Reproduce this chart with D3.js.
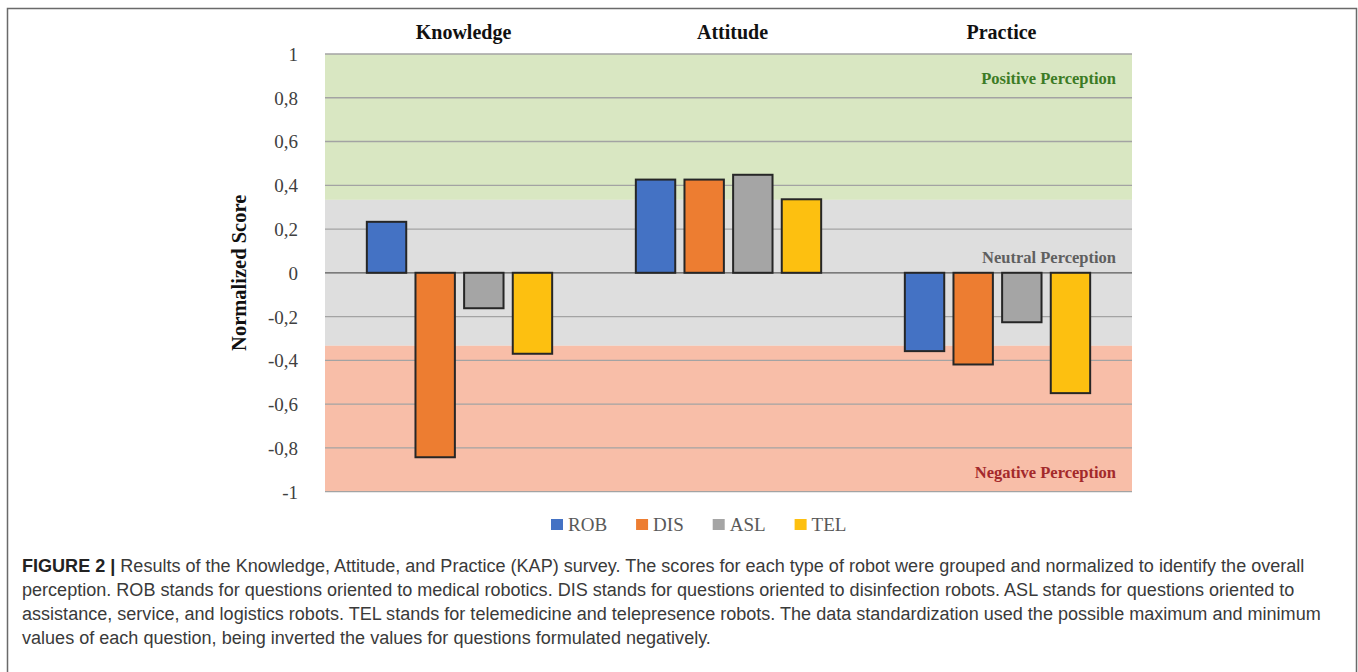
<!DOCTYPE html>
<html>
<head>
<meta charset="utf-8">
<script src="https://cdn.jsdelivr.net/npm/d3@7"></script>
<style>
  body { margin: 0; background: #fff; }
  svg { display: block; }
</style>
</head>
<body>
<div id="chart"></div>
<script>
// Data
const groups = ["Knowledge", "Attitude", "Practice"];
const robots = ["ROB", "DIS", "ASL", "TEL"];
const robValues = [0.233, 0.426, -0.358];
const disValues = [-0.843, 0.426, -0.419];
const aslValues = [-0.162, 0.448, -0.226];
const telValues = [-0.370, 0.336, -0.550];
const yTicks = [1, 0.8, 0.6, 0.4, 0.2, 0, -0.2, -0.4, -0.6, -0.8, -1];
const bands = [
    { name: "Positive Perception", from: 1 / 3, to: 1 },
    { name: "Neutral Perception", from: -1 / 3, to: 1 / 3 },
    { name: "Negative Perception", from: -1, to: -1 / 3 }
];
const captionLines = [
    "Results of the Knowledge, Attitude, and Practice (KAP) survey. The scores for each type of robot were grouped and normalized to identify the overall",
    "perception. ROB stands for questions oriented to medical robotics. DIS stands for questions oriented to disinfection robots. ASL stands for questions oriented to",
    "assistance, service, and logistics robots. TEL stands for telemedicine and telepresence robots. The data standardization used the possible maximum and minimum",
    "values of each question, being inverted the values for questions formulated negatively."
];

const seriesValues = [robValues, disValues, aslValues, telValues];
const data = groups.map((g, i) => ({
    group: g,
    values: robots.map((r, j) => ({ robot: r, value: seriesValues[j][i] }))
}));

// Styles
const colours = d3.scaleOrdinal()
    .domain(robots)
    .range(["#4472c4", "#ed7d31", "#a5a5a5", "#fdc010"]);
const bandFill = ["#d9e7c2", "#dedede", "#f8bea8"];
const bandText = ["#3c7b25", "#5f5f5f", "#a3292b"];
const serif = "'Liberation Serif', 'Times New Roman', serif";

const W = 1358, H = 672;
const plot = { left: 325, right: 1132, top: 54, bottom: 491.6 };

const svg = d3.select("#chart").append("svg")
    .attr("width", W)
    .attr("height", H);

// Figure frame
svg.append("path")
    .attr("d", `M7.5,${H + 5} V8.5 H1356.5 V${H + 5}`)
    .attr("fill", "none")
    .attr("stroke", "#6a6a6a")
    .attr("stroke-width", 1.5);

// Scales
const x0 = d3.scaleBand()
    .domain(groups)
    .range([plot.left, plot.right]);

const x1 = d3.scaleBand()
    .domain(robots)
    .range([0, x0.bandwidth()])
    .paddingInner(0.19)
    .paddingOuter(0.86);

const y = d3.scaleLinear()
    .domain([-1, 1])
    .range([plot.bottom, plot.top]);

// Perception bands
svg.append("g").selectAll("rect")
    .data(bands)
    .enter()
    .append("rect")
    .attr("x", plot.left)
    .attr("width", plot.right - plot.left)
    .attr("y", d => y(d.to))
    .attr("height", d => y(d.from) - y(d.to))
    .attr("fill", (d, i) => bandFill[i]);

// Gridlines
svg.append("g").selectAll("line")
    .data(yTicks)
    .enter()
    .append("line")
    .attr("x1", plot.left)
    .attr("x2", plot.right)
    .attr("y1", d => y(d))
    .attr("y2", d => y(d))
    .attr("stroke", d => d === 0 ? "#5a5a5a" : "#a3a3a3")
    .attr("stroke-width", 1.3);

// Band labels
const bandLabelY = [y(1) + 29.5, y(0) - 10, y(-1) - 14];
svg.append("g").selectAll("text")
    .data(bands)
    .enter()
    .append("text")
    .attr("x", plot.right - 16)
    .attr("y", (d, i) => bandLabelY[i])
    .attr("text-anchor", "end")
    .style("font-family", serif)
    .style("font-weight", "bold")
    .style("font-size", "16.5px")
    .attr("fill", (d, i) => bandText[i])
    .text(d => d.name);

// Bars
svg.append("g").selectAll("g")
    .data(data)
    .enter()
    .append("g")
    .attr("transform", d => `translate(${x0(d.group)},0)`)
    .selectAll("rect")
    .data(d => d.values)
    .enter()
    .append("rect")
    .attr("x", d => x1(d.robot))
    .attr("width", x1.bandwidth())
    .attr("y", d => y(Math.max(0, d.value)))
    .attr("height", d => Math.abs(y(d.value) - y(0)))
    .attr("fill", d => colours(d.robot))
    .attr("stroke", "#262626")
    .attr("stroke-width", 2);

// Y axis labels
const yAxis = d3.axisLeft(y)
    .tickValues(yTicks)
    .tickSize(0)
    .tickPadding(0)
    .tickFormat(d => d3.format("~g")(d).replace(".", ",").replace("−", "-"));

const yAxisG = svg.append("g")
    .attr("transform", `translate(${plot.left - 27},0)`)
    .call(yAxis)
    .attr("font-family", serif)
    .attr("font-size", 19);
yAxisG.select(".domain").remove();
yAxisG.selectAll("text")
    .style("font-family", serif)
    .style("font-size", "19px")
    .attr("fill", "#404040")
    .attr("dy", "0.34em");

// Y axis title
svg.append("text")
    .attr("transform", `translate(246,${(plot.top + plot.bottom) / 2}) rotate(-90)`)
    .attr("text-anchor", "middle")
    .style("font-family", serif)
    .style("font-weight", "bold")
    .style("font-size", "20.5px")
    .attr("fill", "#111")
    .text("Normalized Score");

// Group titles
svg.append("g").selectAll("text")
    .data(groups)
    .enter()
    .append("text")
    .attr("x", d => x0(d) + x0.bandwidth() / 2 + 4)
    .attr("y", 39)
    .attr("text-anchor", "middle")
    .style("font-family", serif)
    .style("font-weight", "bold")
    .style("font-size", "20px")
    .attr("fill", "#111")
    .text(d => d);

// Legend
const legend = svg.append("g")
    .attr("transform", "translate(551,531)");
let lx = 0;
robots.forEach(r => {
    legend.append("rect")
        .attr("x", lx)
        .attr("y", -12)
        .attr("width", 12)
        .attr("height", 11)
        .attr("fill", colours(r));
    const t = legend.append("text")
        .attr("x", lx + 17)
        .attr("y", 0)
        .style("font-family", serif)
        .style("font-size", "19px")
        .attr("fill", "#595959")
        .text(r);
    lx += 17 + t.node().getComputedTextLength() + 29;
});

// Caption
const caption = svg.append("g")
    .attr("transform", "translate(22,0)")
    .style("font-family", "'Liberation Sans', Arial, sans-serif")
    .attr("fill", "#3a3a3a");

const lineYs = [572, 596, 619.5, 643.5, 667];
const first = caption.append("text")
    .attr("y", lineYs[0])
    .style("font-size", "16px");
first.append("tspan")
    .style("font-weight", "bold")
    .attr("fill", "#222")
    .text("FIGURE 2 | ");
first.append("tspan")
    .text(captionLines[0]);

// scale caption font so the first line spans the figure as in the original
const natural = first.node().getComputedTextLength();
const fs = 16 * 1283 / natural;
first.style("font-size", fs + "px");

caption.selectAll("text.cap")
    .data(captionLines.slice(1))
    .enter()
    .append("text")
    .attr("class", "cap")
    .attr("y", (d, i) => lineYs[i + 1])
    .style("font-size", fs + "px")
    .text(d => d);
</script>
</body>
</html>
